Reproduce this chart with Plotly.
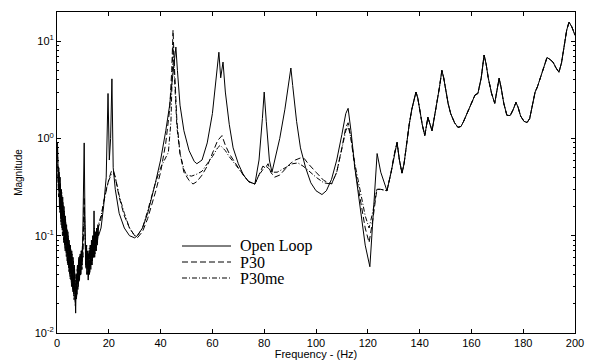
import plotly.graph_objects as go

# ---- data (frequency in Hz, magnitude) ----
# common high-frequency part (all three curves coincide above ~128 Hz)
freq_common = [129, 130.3, 131.3, 132.2, 133.2, 134, 135, 136, 137, 138, 138.6, 139.3, 140,
               141, 142, 143.2, 144.8, 145.7, 146.5, 147.7, 148.6, 149.3, 150, 151, 152,
               153.5, 154.8, 156, 157, 158.3, 159.5, 160.5, 161.4, 162.5, 163.8, 164.9,
               165.7, 166.5, 167.8, 169, 170.7, 171.5, 172.5, 173.7, 175, 176.2, 177.2, 178,
               179, 180.3, 181.5, 182.5, 183.5, 184.6, 185.5, 186.5, 187.3, 188.3, 189.2,
               190.3, 191.5, 192.7, 193.8, 194.8, 195.8, 196.8, 197.7, 198.8, 200]
mag_common = [0.45, 0.7, 0.91, 0.6, 0.44, 0.55, 0.9, 1.4, 2.0, 2.7, 3.0, 2.6, 2.0,
              1.4, 1.07, 1.65, 1.2, 1.6, 2.2, 3.4, 5.0, 4.2, 3.2, 2.3, 1.8,
              1.45, 1.3, 1.33, 1.5, 1.8, 2.1, 2.5, 2.8, 2.9, 4.2, 7.2,
              5.8, 4.2, 2.9, 2.3, 4.15, 3.3, 2.3, 1.73, 1.72, 2.0, 2.35, 2.1,
              1.7, 1.5, 1.46, 1.6, 2.1, 3.0, 3.4, 4.1, 5.0, 6.0, 6.8,
              6.5, 6.1, 5.3, 4.8, 6.0, 9.0, 13.0, 15.7, 14.0, 11.5]

freq_open = [0.2, 0.45, 0.7, 0.95, 1.2, 1.45, 1.7, 1.95, 2.2, 2.45, 2.7, 2.95, 3.2, 3.45,
             3.7, 3.95, 4.2, 4.45, 4.7, 4.95, 5.2, 5.45, 5.7, 5.95, 6.2, 6.45, 6.7, 6.95,
             7.2, 7.45, 7.7, 7.95, 8.2, 8.45, 8.7, 8.95, 9.2, 9.45, 9.7, 9.95, 10.2, 10.5,
             10.8, 11.05, 11.3, 11.55, 11.8, 12.05, 12.3, 12.55, 12.8, 13.05, 13.3, 13.55,
             13.8, 14.05, 14.3, 14.55, 14.8, 15.05, 15.3, 15.55, 15.8, 16.05,
             17, 18, 19, 19.7, 20.2, 20.7, 21.2, 21.7,
             22.5, 24, 26, 28, 30, 31, 33, 35, 38, 40, 42, 43.5, 44.5, 45.3, 45.9,
             46.5, 47.5, 49, 51, 53, 54, 56, 58, 60, 61.5, 62.5, 63.2, 64.1, 65, 66.5,
             68, 70, 72, 74, 76.4, 78, 79.3, 80, 80.8, 82, 83, 84, 86, 88, 89.5, 90.3,
             91, 92.5, 94, 96, 98, 100, 102.3, 104, 106, 108, 110, 111.5, 112.4, 113.5,
             115, 117, 119, 120.8, 122, 123.6, 125, 127.4]
mag_open = [0.9, 0.35, 0.5, 0.2, 0.4, 0.15, 0.3, 0.12, 0.25, 0.1, 0.2, 0.08, 0.16, 0.07,
            0.13, 0.055, 0.11, 0.05, 0.09, 0.04, 0.08, 0.035, 0.07, 0.03, 0.06, 0.025, 0.05,
            0.02, 0.016, 0.04, 0.025, 0.05, 0.03, 0.06, 0.035, 0.065, 0.04, 0.07, 0.05, 0.1,
            0.3, 0.9,
            0.15, 0.05, 0.08, 0.04, 0.07, 0.035, 0.065, 0.04, 0.08, 0.045, 0.09, 0.05,
            0.1, 0.06, 0.18, 0.06, 0.11, 0.07, 0.12, 0.08, 0.13, 0.1,
            0.12, 0.2, 0.4, 2.9, 0.6, 1.0, 4.1, 0.5,
            0.3, 0.17, 0.12, 0.1, 0.095, 0.1, 0.12, 0.17, 0.35, 0.6, 1.2, 2.2,
            4.0, 7.0, 8.7, 5.0, 2.2, 1.2, 0.75, 0.58, 0.55, 0.6, 0.9, 1.8, 4.0, 7.7, 4.2,
            6.1, 3.0, 1.4, 0.8, 0.55, 0.42, 0.36, 0.34, 0.6, 1.6, 3.0, 1.5, 0.6, 0.45, 0.6,
            1.0, 2.0, 4.0, 5.3, 3.5, 1.5, 0.8, 0.5, 0.35, 0.29, 0.265, 0.29, 0.38, 0.6,
            1.1, 1.8, 2.04, 1.2, 0.5, 0.2, 0.08, 0.048, 0.15, 0.7, 0.45, 0.29]

freq_p30 = [0.2, 0.55, 0.8, 1.05, 1.3, 1.55, 1.8, 2.05, 2.3, 2.55, 2.8, 3.05, 3.3, 3.55,
            3.8, 4.05, 4.3, 4.55, 4.8, 5.05, 5.3, 5.55, 5.8, 6.05, 6.3, 6.55, 6.8, 7.05,
            7.3, 7.55, 7.8, 8.05, 8.3, 8.55, 8.8, 9.05, 9.3, 9.55, 9.8, 10.05, 10.5,
            10.9, 11.15, 11.4, 11.65, 11.9, 12.15, 12.4, 12.65, 12.9, 13.15, 13.4, 13.65,
            13.9, 14.15, 14.4, 14.65, 14.9, 15.15, 15.4, 15.65, 15.9,
            17, 18, 19, 20, 21, 21.8, 22.5, 24, 26, 28, 30, 31, 33, 35, 38, 40, 42, 43.5,
            44.3, 44.8, 45.4, 46.3, 47.5, 49, 51, 52.5, 54, 56, 58, 60, 62, 63.7, 65, 66.5,
            68, 70, 72, 74, 76.4, 78, 79.5, 80.5, 81.5, 82.5, 84, 86, 88, 90, 92, 94, 95.5,
            97, 100, 103, 106, 108, 110, 111.5, 112.4, 113.5, 115, 117, 119, 120.5, 122,
            123.5, 125, 127.4]
mag_p30 = [0.8, 0.3, 0.45, 0.18, 0.35, 0.14, 0.28, 0.11, 0.22, 0.09, 0.18, 0.075, 0.15,
           0.065, 0.12, 0.05, 0.1, 0.045, 0.085, 0.038, 0.075, 0.032, 0.065, 0.028, 0.055,
           0.024, 0.045, 0.02, 0.035, 0.022, 0.045, 0.028, 0.055, 0.033, 0.06, 0.038,
           0.065, 0.045, 0.08, 0.06, 0.25,
           0.07, 0.045, 0.075, 0.04, 0.065, 0.038, 0.07, 0.042, 0.075, 0.05, 0.085, 0.055,
           0.095, 0.06, 0.11, 0.065, 0.1, 0.07, 0.11, 0.085, 0.12,
           0.15, 0.22, 0.3, 0.38, 0.46, 0.47, 0.4, 0.25,
           0.16, 0.12, 0.1, 0.095, 0.11, 0.15, 0.28, 0.45, 0.9, 2.0, 5.0, 13.0, 5.0, 1.5,
           0.7, 0.45, 0.37, 0.34, 0.36, 0.42, 0.52, 0.7, 0.95, 1.07, 0.85, 0.7, 0.6, 0.5,
           0.42, 0.36, 0.34, 0.42, 0.52, 0.5, 0.55, 0.45, 0.4, 0.42, 0.48, 0.55, 0.6, 0.63,
           0.62, 0.55, 0.45, 0.37, 0.34, 0.45, 0.8, 1.3, 1.45, 1.0, 0.5, 0.25, 0.12, 0.085,
           0.15, 0.3, 0.3, 0.29]

freq_p30me = [0.2, 0.35, 0.6, 0.85, 1.1, 1.35, 1.6, 1.85, 2.1, 2.35, 2.6, 2.85, 3.1, 3.35,
              3.6, 3.85, 4.1, 4.35, 4.6, 4.85, 5.1, 5.35, 5.6, 5.85, 6.1, 6.35, 6.6, 6.85,
              7.1, 7.35, 7.6, 7.85, 8.1, 8.35, 8.6, 8.85, 9.1, 9.35, 9.6, 9.85, 10.5,
              10.95, 11.2, 11.45, 11.7, 11.95, 12.2, 12.45, 12.7, 12.95, 13.2, 13.45, 13.7,
              13.95, 14.2, 14.45, 14.7, 14.95, 15.2, 15.45, 15.7, 15.95,
              17, 18, 19, 20, 21, 21.8, 22.5, 24, 26, 28, 30, 31, 33, 35, 38, 40,
              42, 43, 44, 44.8, 45.4, 46.3, 47.5, 49, 50, 52, 54, 56, 58, 60, 62, 63, 64,
              65, 66.5, 68, 70, 72, 74, 76.4, 78, 79.5, 80.5, 81.5, 83, 85, 87, 89, 91, 93,
              95, 97, 100, 103, 106, 108, 110, 111.5, 112.4, 113.5, 115, 117, 119, 120.5,
              122, 123.5, 125, 127.4]
mag_p30me = [0.7, 0.4, 0.25, 0.45, 0.17, 0.32, 0.13, 0.26, 0.1, 0.21, 0.085, 0.17, 0.07,
             0.14, 0.06, 0.115, 0.05, 0.095, 0.042, 0.08, 0.036, 0.07, 0.03, 0.06, 0.026,
             0.05, 0.022, 0.042, 0.019, 0.04, 0.024, 0.05, 0.03, 0.058, 0.035, 0.062, 0.04,
             0.07, 0.045, 0.075, 0.2,
             0.08, 0.05, 0.08, 0.045, 0.07, 0.04, 0.075, 0.045, 0.08, 0.05, 0.09, 0.055,
             0.1, 0.065, 0.12, 0.07, 0.105, 0.075, 0.115, 0.09, 0.13,
             0.16, 0.22, 0.3, 0.37, 0.43, 0.44,
             0.4, 0.26, 0.17, 0.12, 0.1, 0.1, 0.12, 0.18, 0.35, 0.5, 0.65, 0.72, 1.5, 9.0,
             4.0, 1.3, 0.7, 0.48, 0.42, 0.41, 0.43, 0.46, 0.55, 0.65, 0.8, 0.85, 0.8, 0.75,
             0.65, 0.58, 0.5, 0.42, 0.36, 0.34, 0.42, 0.48, 0.52, 0.5, 0.45, 0.45, 0.48,
             0.52, 0.55, 0.56, 0.52, 0.47, 0.4, 0.35, 0.34, 0.45, 0.78, 1.2, 1.35, 1.0,
             0.55, 0.3, 0.16, 0.12, 0.18, 0.3, 0.3, 0.29]

series_names = ["Open Loop", "P30", "P30me"]
x_ticks = [0, 20, 40, 60, 80, 100, 120, 140, 160, 180, 200]
y_ticks = [0.01, 0.1, 1, 10]
y_tick_text = ["10<sup>-2</sup>", "10<sup>-1</sup>", "10<sup>0</sup>", "10<sup>1</sup>"]
y_minor = [m * d for d in (0.01, 0.1, 1, 10) for m in range(2, 10) if m * d < 20]

# ---- layout geometry (pixels) ----
W, H = 589, 360
L, R, T, B = 57, 14, 12, 27
PW, PH = W - L - R, H - T - B

def px(xpix):
    return (xpix - L) / PW

def py(ypix):
    return (H - B - ypix) / PH

dashes = ["solid", "6px,3px", "5px,2px,1px,2px"]

fig = go.Figure()
curves = [
    (freq_open + freq_common, mag_open + mag_common),
    (freq_p30 + freq_common, mag_p30 + mag_common),
    (freq_p30me + freq_common, mag_p30me + mag_common),
]
for name, (fx, my), dash in zip(series_names, curves, dashes):
    fig.add_trace(go.Scatter(x=fx, y=my, mode="lines", name=name, showlegend=False,
                             line=dict(color="black", width=1, dash=dash)))

# manual legend (line samples + labels)
legend_rows = [246, 262, 278]
for name, dash, yrow in zip(series_names, dashes, legend_rows):
    fig.add_shape(type="line", xref="paper", yref="paper",
                  x0=px(182), x1=px(231), y0=py(yrow), y1=py(yrow),
                  line=dict(color="black", width=1, dash=dash))
    fig.add_annotation(xref="paper", yref="paper", x=px(238), y=py(yrow),
                       xanchor="left", yanchor="middle", showarrow=False, text=name,
                       font=dict(family="Liberation Serif, Times New Roman, serif",
                                 size=16, color="black"))

sans = "Liberation Sans, Arial, sans-serif"
axis_font = dict(family=sans, size=11, color="black")
fig.update_layout(
    width=W, height=H,
    margin=dict(l=L, r=R, t=T, b=B),
    paper_bgcolor="white", plot_bgcolor="white",
    showlegend=False,
    xaxis=dict(range=[0, 200], tickvals=x_ticks, ticktext=[str(v) for v in x_ticks],
               ticks="inside", ticklen=4, tickcolor="black", showgrid=False,
               zeroline=False, showline=True, linecolor="black", linewidth=1,
               mirror="ticks", tickfont=axis_font, automargin=False,
               title=dict(text="Frequency - (Hz)", font=dict(family=sans, size=11, color="black"),
                          standoff=2)),
    yaxis=dict(type="log", range=[-2, 1.3], tickvals=y_ticks, ticktext=y_tick_text,
               ticks="inside", ticklen=4, tickcolor="black", showgrid=False,
               zeroline=False, showline=True, linecolor="black", linewidth=1,
               mirror="ticks", tickfont=axis_font, automargin=False,
               minor=dict(tickvals=y_minor, ticks="inside", ticklen=2, tickcolor="black",
                          showgrid=False),
               title=dict(text="Magnitude", font=dict(family=sans, size=10, color="black"),
                          standoff=10)),
)
fig.write_html("out.html")
